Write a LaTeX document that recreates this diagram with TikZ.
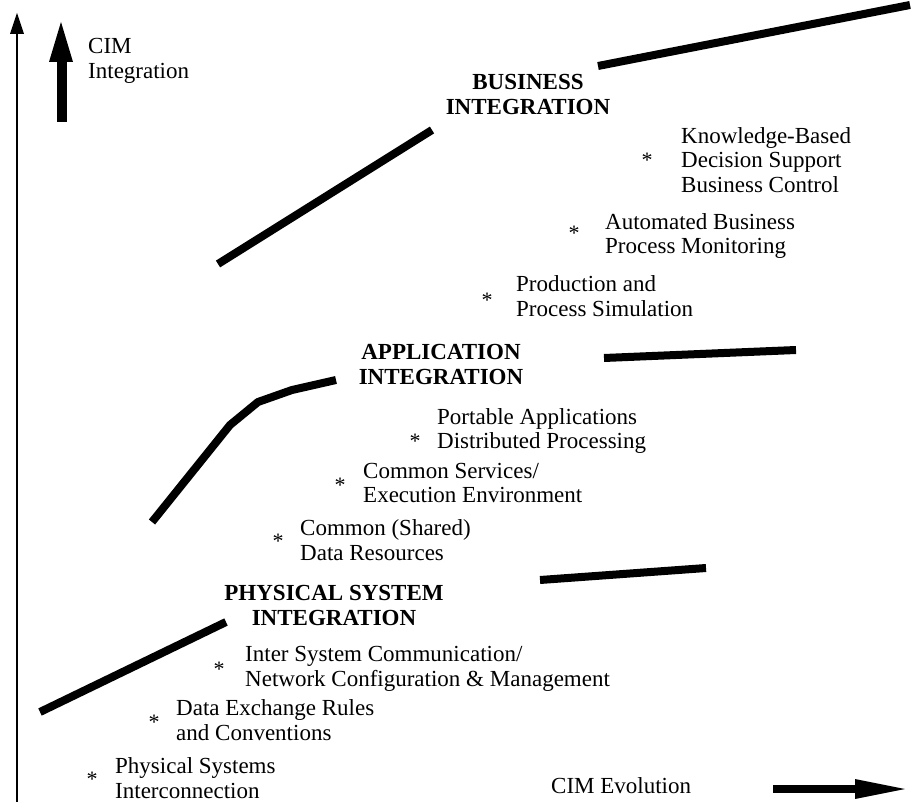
\documentclass[tikz,border=0pt]{standalone}
\usepackage{fontspec}
\setmainfont{Liberation Serif}
\begin{document}
\begin{tikzpicture}[x=1pt,y=-1pt,
  lbl/.style={anchor=west, align=left, font=\fontsize{23}{24.5}\selectfont, inner sep=0},
  heading/.style={anchor=center, align=center, font=\fontsize{23}{25}\selectfont\bfseries, inner sep=0},
  ast/.style={font=\fontsize{22}{22}\selectfont, inner sep=0, anchor=center},
  band/.style={line width=8pt, line join=round, line cap=butt},
  arrowfill/.style={fill=black, draw=none}]
\useasboundingbox (0,0) rectangle (912,802);

% axes
\draw[line width=1.6pt] (17,802) -- (17,30);
\fill[arrowfill] (17,13) -- (24,34) -- (10,34) -- cycle;
\node[lbl] (evol) at (551,786) {CIM Evolution};
\fill[arrowfill] (773,785) rectangle (858,793);
\fill[arrowfill] (905,789) -- (855,779) -- (855,799) -- cycle;

% CIM integration arrow
\fill[arrowfill] (57,122) rectangle (67,60);
\fill[arrowfill] (61,22) -- (73,62) -- (49,62) -- cycle;
\node[lbl] (cimint) at (88,61) {CIM\\Integration};

% bands
\draw[band] (40,712) -- (226,622);
\draw[band] (540,580) -- (706,568);
\draw[band] (152,522) -- (230,425) -- (258,402) -- (292,390) -- (336,380);
\draw[band] (604,358) -- (796,350);
\draw[band] (218,264) -- (432,130);
\draw[band] (598,66) -- (910,5);

% headings
\node[heading] (phys) at (334,605) {PHYSICAL SYSTEM\\INTEGRATION};
\node[heading] (app) at (441,364) {APPLICATION\\INTEGRATION};
\node[heading] (bus) at (528,95) {BUSINESS\\INTEGRATION};

% items
\node[ast] (a1) at (92,779) {*};
\node[lbl] (t1) at (115,778) {Physical Systems\\Interconnection};
\node[ast] (a2) at (154,722) {*};
\node[lbl] (t2) at (176,720) {Data Exchange Rules\\and Conventions};
\node[ast] (a3) at (219,669) {*};
\node[lbl] (t3) at (245,669) {Inter System Communication/\\Network Configuration \& Management};
\node[ast] (a4) at (278,541) {*};
\node[lbl] (t4) at (300,540) {Common (Shared)\\Data Resources};
\node[ast] (a5) at (340,485) {*};
\node[lbl] (t5) at (363,483) {Common Services/\\Execution Environment};
\node[ast] (a6) at (415,441) {*};
\node[lbl] (t6) at (437,431) {Portable Applications\\Distributed Processing};
\node[ast] (a7) at (487,300) {*};
\node[lbl] (t7) at (516,296) {Production and\\Process Simulation};
\node[ast] (a8) at (574,233) {*};
\node[lbl] (t8) at (605,236) {Automated Business\\Process Monitoring};
\node[ast] (a9) at (647,160) {*};
\node[lbl] (t9) at (681,160) {Knowledge-Based\\Decision Support\\Business Control};
\end{tikzpicture}
\end{document}
